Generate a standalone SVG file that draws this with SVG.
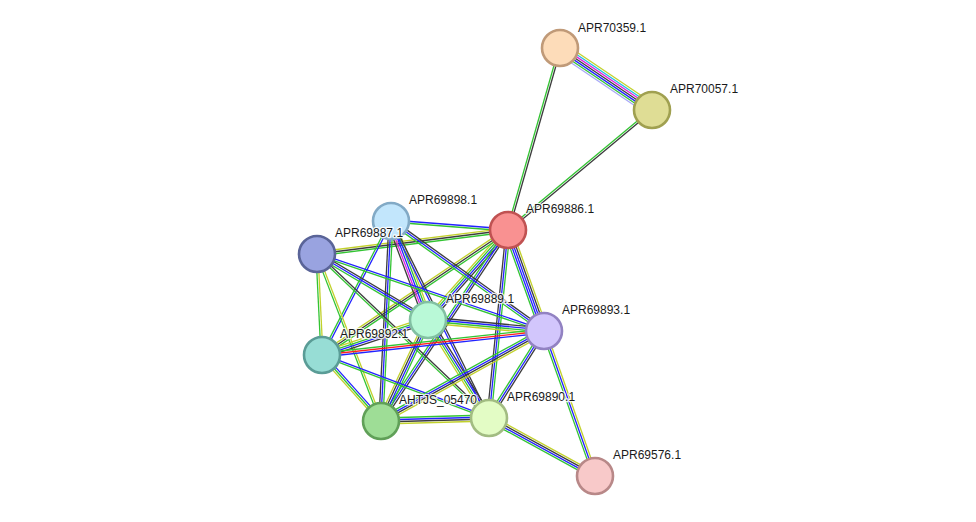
<svg xmlns="http://www.w3.org/2000/svg" width="976" height="522" viewBox="0 0 976 522">
<style>
line{stroke-width:1.3;fill:none}
.g{stroke:#33c433}.b{stroke:#2222ff}.k{stroke:#3c3c3c}.y{stroke:#c2d12c}.m{stroke:#e020e0}.c{stroke:#20c0e0}.r{stroke:#ff2020}.v{stroke:#a8a8f8}
circle{stroke-width:2.6}
text{font-family:"Liberation Sans",Arial,sans-serif;font-size:12px;fill:#1a1a1a;stroke:#fff;stroke-width:2.5;stroke-opacity:0.85;paint-order:stroke;stroke-linejoin:round}
</style>
<rect width="976" height="522" fill="#fff"/>
<g id="connectors">
<g transform="translate(560 48) rotate(33.98)"><line x2="110.9" y1="-6" y2="-6" class="y"/><line x2="110.9" y1="-4" y2="-4" class="c"/><line x2="110.9" y1="-2" y2="-2" class="m"/><line x2="110.9" y1="0" y2="0" class="k"/><line x2="110.9" y1="2" y2="2" class="b"/><line x2="110.9" y1="4" y2="4" class="g"/><line x2="110.9" y1="6" y2="6" class="v"/></g>
<g transform="translate(508 230) rotate(-74.05)"><line x2="189.3" y1="-1" y2="-1" class="g"/><line x2="189.3" y1="1" y2="1" class="k"/></g>
<g transform="translate(508 230) rotate(-39.8)"><line x2="187.4" y1="-1" y2="-1" class="g"/><line x2="187.4" y1="1" y2="1" class="k"/></g>
<g transform="translate(508 230) rotate(70.4)"><line x2="107.2" y1="4" y2="4" class="g"/><line x2="107.2" y1="2" y2="2" class="b"/><line x2="107.2" y1="0" y2="0" class="b"/><line x2="107.2" y1="-2" y2="-2" class="k"/><line x2="107.2" y1="-4" y2="-4" class="y"/></g>
<g transform="translate(391 221) rotate(4.4)"><line x2="117.3" y1="-1" y2="-1" class="b"/><line x2="117.3" y1="1" y2="1" class="g"/></g>
<g transform="translate(317 254) rotate(-7.16)"><line x2="192.5" y1="-2" y2="-2" class="y"/><line x2="192.5" y1="0" y2="0" class="k"/><line x2="192.5" y1="2" y2="2" class="g"/></g>
<g transform="translate(428 320) rotate(-48.4)"><line x2="120.4" y1="-3" y2="-3" class="y"/><line x2="120.4" y1="-1" y2="-1" class="g"/><line x2="120.4" y1="1" y2="1" class="b"/><line x2="120.4" y1="3" y2="3" class="k"/></g>
<g transform="translate(322 355) rotate(-33.9)"><line x2="224.1" y1="-2" y2="-2" class="y"/><line x2="224.1" y1="0" y2="0" class="k"/><line x2="224.1" y1="2" y2="2" class="g"/></g>
<g transform="translate(381 421) rotate(-56.4)"><line x2="229.4" y1="-2" y2="-2" class="g"/><line x2="229.4" y1="0" y2="0" class="b"/><line x2="229.4" y1="2" y2="2" class="k"/></g>
<g transform="translate(489 418) rotate(-84.2)"><line x2="189" y1="-2" y2="-2" class="k"/><line x2="189" y1="0" y2="0" class="b"/><line x2="189" y1="2" y2="2" class="g"/></g>
<g transform="translate(391 221) rotate(69.5)"><line x2="105.7" y1="4" y2="4" class="k"/><line x2="105.7" y1="2" y2="2" class="m"/><line x2="105.7" y1="0" y2="0" class="b"/><line x2="105.7" y1="-2" y2="-2" class="g"/><line x2="105.7" y1="-4" y2="-4" class="y"/></g>
<g transform="translate(391 221) rotate(35.7)"><line x2="188.4" y1="-2" y2="-2" class="k"/><line x2="188.4" y1="0" y2="0" class="b"/><line x2="188.4" y1="2" y2="2" class="g"/></g>
<g transform="translate(391 221) rotate(117.2)"><line x2="150.7" y1="-1" y2="-1" class="b"/><line x2="150.7" y1="1" y2="1" class="g"/></g>
<g transform="translate(391 221) rotate(92.9)"><line x2="200.2" y1="-2" y2="-2" class="g"/><line x2="200.2" y1="0" y2="0" class="b"/><line x2="200.2" y1="2" y2="2" class="k"/></g>
<g transform="translate(391 221) rotate(63.55)"><line x2="220" y1="-1" y2="-1" class="k"/><line x2="220" y1="1" y2="1" class="b"/></g>
<g transform="translate(317 254) rotate(30.7)"><line x2="129.1" y1="-2" y2="-2" class="k"/><line x2="129.1" y1="0" y2="0" class="b"/><line x2="129.1" y1="2" y2="2" class="g"/></g>
<g transform="translate(317 254) rotate(18.74)"><line x2="239.7" y1="-1" y2="-1" class="b"/><line x2="239.7" y1="1" y2="1" class="g"/></g>
<g transform="translate(317 254) rotate(87.2)"><line x2="101.1" y1="-1" y2="-1" class="y"/><line x2="101.1" y1="1" y2="1" class="g"/></g>
<g transform="translate(317 254) rotate(69)"><line x2="178.8" y1="-1" y2="-1" class="y"/><line x2="178.8" y1="1" y2="1" class="g"/></g>
<g transform="translate(317 254) rotate(43.6)"><line x2="237.7" y1="-1" y2="-1" class="k"/><line x2="237.7" y1="1" y2="1" class="g"/></g>
<g transform="translate(428 320) rotate(5.4)"><line x2="116.5" y1="-3" y2="-3" class="k"/><line x2="116.5" y1="-1" y2="-1" class="b"/><line x2="116.5" y1="1" y2="1" class="g"/><line x2="116.5" y1="3" y2="3" class="y"/></g>
<g transform="translate(322 355) rotate(-18.3)"><line x2="111.6" y1="-3" y2="-3" class="y"/><line x2="111.6" y1="-1" y2="-1" class="g"/><line x2="111.6" y1="1" y2="1" class="b"/><line x2="111.6" y1="3" y2="3" class="k"/></g>
<g transform="translate(428 320) rotate(114.95)"><line x2="111.4" y1="-3" y2="-3" class="g"/><line x2="111.4" y1="-1" y2="-1" class="b"/><line x2="111.4" y1="1" y2="1" class="k"/><line x2="111.4" y1="3" y2="3" class="y"/></g>
<g transform="translate(428 320) rotate(58.1)"><line x2="115.4" y1="-3" y2="-3" class="k"/><line x2="115.4" y1="-1" y2="-1" class="b"/><line x2="115.4" y1="1" y2="1" class="g"/><line x2="115.4" y1="3" y2="3" class="y"/></g>
<g transform="translate(322 355) rotate(-6.17)"><line x2="223.3" y1="-2" y2="-2" class="g"/><line x2="223.3" y1="0" y2="0" class="r"/><line x2="223.3" y1="2" y2="2" class="b"/></g>
<g transform="translate(322 355) rotate(48.2)"><line x2="88.5" y1="-2" y2="-2" class="b"/><line x2="88.5" y1="0" y2="0" class="g"/><line x2="88.5" y1="2" y2="2" class="y"/></g>
<g transform="translate(322 355) rotate(20.67)"><line x2="178.5" y1="-1" y2="-1" class="b"/><line x2="178.5" y1="1" y2="1" class="g"/></g>
<g transform="translate(381 421) rotate(-1.6)"><line x2="108" y1="-3" y2="-3" class="g"/><line x2="108" y1="-1" y2="-1" class="b"/><line x2="108" y1="1" y2="1" class="k"/><line x2="108" y1="3" y2="3" class="y"/></g>
<g transform="translate(381 421) rotate(-28.9)"><line x2="186.2" y1="-3" y2="-3" class="g"/><line x2="186.2" y1="-1" y2="-1" class="b"/><line x2="186.2" y1="1" y2="1" class="k"/><line x2="186.2" y1="3" y2="3" class="y"/></g>
<g transform="translate(489 418) rotate(-57.7)"><line x2="102.9" y1="-2" y2="-2" class="g"/><line x2="102.9" y1="0" y2="0" class="b"/><line x2="102.9" y1="2" y2="2" class="k"/></g>
<g transform="translate(544 331) rotate(70.6)"><line x2="153.7" y1="2" y2="2" class="g"/><line x2="153.7" y1="0" y2="0" class="b"/><line x2="153.7" y1="-2" y2="-2" class="y"/></g>
<g transform="translate(489 418) rotate(28.7)"><line x2="120.8" y1="-3" y2="-3" class="y"/><line x2="120.8" y1="-1" y2="-1" class="k"/><line x2="120.8" y1="1" y2="1" class="b"/><line x2="120.8" y1="3" y2="3" class="g"/></g>
</g>
<g id="APR70359.1"><circle cx="560" cy="48" r="18" fill="#fddcb9" stroke="#c09a78"/></g>
<g id="APR70057.1"><circle cx="652" cy="110" r="18" fill="#dfdd95" stroke="#a0a050"/></g>
<g id="APR69886.1"><circle cx="508" cy="230" r="18" fill="#f99191" stroke="#c05252"/></g>
<g id="APR69898.1"><circle cx="391" cy="221" r="18" fill="#c2e6fc" stroke="#82aac6"/></g>
<g id="APR69887.1"><circle cx="317" cy="254" r="18" fill="#99a3e0" stroke="#5a6498"/></g>
<g id="APR69889.1"><circle cx="428" cy="320" r="18" fill="#b9f9d7" stroke="#82c0a2"/></g>
<g id="APR69893.1"><circle cx="544" cy="331" r="18" fill="#d2c6fc" stroke="#9282c2"/></g>
<g id="APR69892.1"><circle cx="322" cy="355" r="18" fill="#97ddd5" stroke="#5a9c96"/></g>
<g id="AHTJS_05470"><circle cx="381" cy="421" r="18" fill="#9edd96" stroke="#60a058"/></g>
<g id="APR69890.1"><circle cx="489" cy="418" r="18" fill="#e3fcc5" stroke="#a2bc82"/></g>
<g id="APR69576.1"><circle cx="595" cy="476" r="18" fill="#f8c9c9" stroke="#b88888"/></g>
<g id="labels">
<text x="578" y="32">APR70359.1</text>
<text x="670" y="93">APR70057.1</text>
<text x="526" y="213">APR69886.1</text>
<text x="409" y="204">APR69898.1</text>
<text x="335" y="237">APR69887.1</text>
<text x="446" y="303">APR69889.1</text>
<text x="562" y="314">APR69893.1</text>
<text x="340" y="338">APR69892.1</text>
<text x="399" y="404">AHTJS_05470</text>
<text x="507" y="401">APR69890.1</text>
<text x="613" y="459">APR69576.1</text>
</g>
</svg>
